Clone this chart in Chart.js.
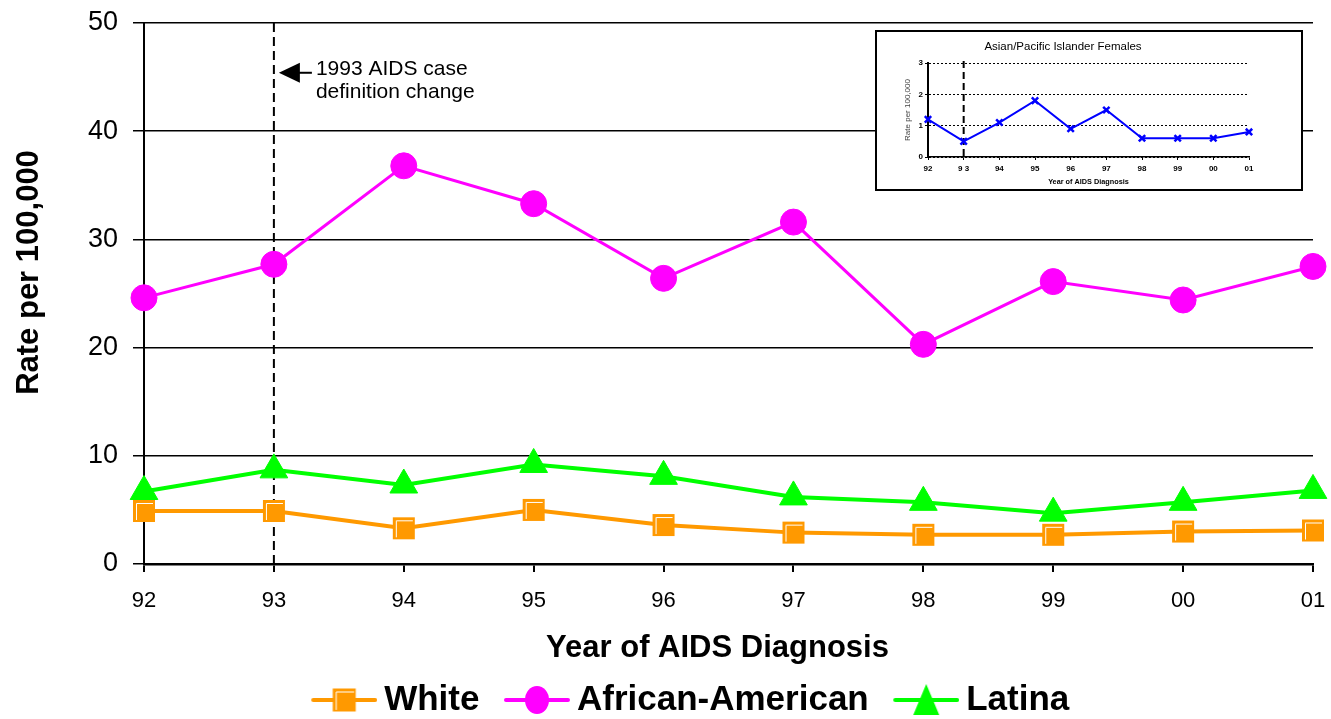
<!DOCTYPE html>
<html><head><meta charset="utf-8">
<script src="https://cdn.jsdelivr.net/npm/chart.js@4.4.1/dist/chart.umd.min.js"></script>
<style>
html,body{margin:0;padding:0;background:#fff;}
#wrap{position:relative;width:1331px;height:719px;overflow:hidden;}
#main{position:absolute;left:0;top:0;}
#insetBox{position:absolute;left:875px;top:30px;width:428px;height:161px;box-sizing:border-box;border:2px solid #000;background:#fff;}
#inset{display:block;}
</style></head><body>
<div id="wrap">
<canvas id="main" width="1331" height="719"></canvas>
<div id="insetBox"><canvas id="inset" width="424" height="157"></canvas></div>
</div>
<script>
// ---- data ----
const years = ['92','93','94','95','96','97','98','99','00','01'];
const insetYears = ['92','9 3','94','95','96','97','98','99','00','01'];
const white = [4.9, 4.9, 3.3, 5.0, 3.6, 2.9, 2.7, 2.7, 3.0, 3.1];
const africanAmerican = [24.6, 27.7, 36.8, 33.3, 26.4, 31.6, 20.3, 26.1, 24.4, 27.5];
const latina = [6.7, 8.7, 7.3, 9.2, 8.1, 6.2, 5.7, 4.7, 5.7, 6.8];
const asianPacific = [1.2, 0.5, 1.1, 1.8, 0.9, 1.5, 0.6, 0.6, 0.6, 0.8];
const mainYTicks = [0, 10, 20, 30, 40, 50];
const insetYTicks = [0, 1, 2, 3];
const seriesNames = ['White', 'African-American', 'Latina'];
const yTitleText = 'Rate per 100,000';
const xTitleText = 'Year of AIDS Diagnosis';
const definitionChangeIndex = 1;      // 1993
const annotationValue = 45.4;         // rate level of the arrow
const annotationLines = ['1993 AIDS case', 'definition change'];

const FONT = "'Liberation Sans', Arial, sans-serif";
Chart.defaults.font.family = FONT;
Chart.defaults.color = '#000';

const ORANGE = '#FF9900', MAGENTA = '#FF00FF', GREEN = '#00FF00', BLUE = '#0000FF';

// ---- marker images ----
function drawSquare(ctx, cx, cy, s) {
  ctx.fillStyle = ORANGE;
  ctx.fillRect(cx - s/2, cy - s/2, s, s);
  ctx.strokeStyle = '#fff';
  ctx.lineWidth = 1;
  ctx.beginPath();
  ctx.moveTo(cx - s/2 + 3.5, cy + s/2 - 2);
  ctx.lineTo(cx - s/2 + 3.5, cy - s/2 + 3.5);
  ctx.lineTo(cx + s/2 - 2, cy - s/2 + 3.5);
  ctx.stroke();
}
function squareImage() {
  const c = document.createElement('canvas'); c.width = 24; c.height = 24;
  drawSquare(c.getContext('2d'), 12, 12, 22);
  return c;
}
function legendImage(kind, color) {
  const c = document.createElement('canvas');
  c.width = 94; c.height = 36;
  const ctx = c.getContext('2d');
  const x0 = 28, x1 = 94, cy = 18, cx = (x0 + x1) / 2;
  ctx.strokeStyle = color; ctx.lineWidth = 4; ctx.lineCap = 'round';
  ctx.beginPath(); ctx.moveTo(x0 + 2, cy); ctx.lineTo(x1 - 2, cy); ctx.stroke();
  if (kind === 'square') drawSquare(ctx, cx, cy, 23);
  if (kind === 'circle') { ctx.fillStyle = color; ctx.beginPath(); ctx.ellipse(cx, cy, 12, 14, 0, 0, Math.PI*2); ctx.fill(); }
  if (kind === 'triangle') { ctx.fillStyle = color; ctx.beginPath(); ctx.moveTo(cx, cy - 16); ctx.lineTo(cx + 13, cy + 15); ctx.lineTo(cx - 13, cy + 15); ctx.closePath(); ctx.fill(); }
  return c;
}
const legendImgs = [legendImage('square', ORANGE), legendImage('circle', MAGENTA), legendImage('triangle', GREEN)];

// ---- main chart plugins ----
const mainDecor = {
  id: 'mainDecor',
  beforeDatasetsDraw(chart) {
    const {ctx, chartArea: a, scales: {x}} = chart;
    const px = x.getPixelForValue(definitionChangeIndex);
    ctx.save();
    ctx.strokeStyle = '#000'; ctx.lineWidth = 2; ctx.setLineDash([9, 5]);
    ctx.beginPath(); ctx.moveTo(px, a.top); ctx.lineTo(px, a.bottom); ctx.stroke();
    ctx.restore();
  },
  afterDraw(chart) {
    const {ctx, chartArea: a, scales: {x, y}} = chart;
    const tipX = x.getPixelForValue(definitionChangeIndex) + 5;
    const tipY = y.getPixelForValue(annotationValue);
    ctx.save();
    ctx.fillStyle = '#000'; ctx.strokeStyle = '#000';
    ctx.beginPath(); ctx.moveTo(tipX, tipY); ctx.lineTo(tipX + 21, tipY - 10); ctx.lineTo(tipX + 21, tipY + 10); ctx.closePath(); ctx.fill();
    ctx.lineWidth = 2; ctx.beginPath(); ctx.moveTo(tipX + 20, tipY); ctx.lineTo(tipX + 33, tipY); ctx.stroke();
    ctx.font = '21px ' + FONT; ctx.textAlign = 'left'; ctx.textBaseline = 'alphabetic';
    ctx.fillText(annotationLines[0], tipX + 37, tipY + 2);
    ctx.fillText(annotationLines[1], tipX + 37, tipY + 25);
    // x-axis title (slightly left of the plot centre, as in the original)
    ctx.font = 'bold 31px ' + FONT; ctx.textAlign = 'center'; ctx.textBaseline = 'middle';
    ctx.fillText(xTitleText, (a.left + a.right) / 2 - 11, a.bottom + 84);
    // y-axis title (slightly above the plot centre, as in the original)
    ctx.translate(29, (a.top + a.bottom) / 2 - 21);
    ctx.rotate(-Math.PI / 2);
    ctx.fillText(yTitleText, 0, 0);
    ctx.restore();
  }
};
const legendShift = {
  id: 'legendShift',
  afterLayout(chart) {
    const l = chart.legend; if (!l) return;
    l.top += 8.5; l.bottom += 8.5; l.left += 25; l.right += 25;
  }
};

new Chart(document.getElementById('main'), {
  type: 'line',
  data: {
    labels: years,
    datasets: [
      {label: seriesNames[0], data: white, borderColor: ORANGE, backgroundColor: ORANGE, borderWidth: 4,
       pointStyle: squareImage(), pointRadius: 12, clip: false},
      {label: seriesNames[1], data: africanAmerican, borderColor: MAGENTA, backgroundColor: MAGENTA, borderWidth: 3,
       pointStyle: 'circle', pointRadius: 13, pointBorderWidth: 1, clip: false},
      {label: seriesNames[2], data: latina, borderColor: GREEN, backgroundColor: GREEN, borderWidth: 4,
       pointStyle: 'triangle', pointRadius: 16, pointBorderWidth: 1, clip: false}
    ]
  },
  options: {
    responsive: false, animation: false,
    layout: {padding: {top: 23, right: 18, left: 0, bottom: 0}},
    plugins: {
      tooltip: {enabled: false},
      legend: {
        position: 'bottom',
        labels: {
          usePointStyle: true, pointStyleWidth: 73, padding: 7, color: '#000',
          font: {size: 35, weight: 'bold'},
          generateLabels: chart => chart.data.datasets.map((ds, i) => ({
            text: ds.label, pointStyle: legendImgs[i], fillStyle: ds.backgroundColor,
            strokeStyle: ds.borderColor, lineWidth: 0, hidden: false, datasetIndex: i, fontColor: '#000'
          }))
        }
      }
    },
    scales: {
      x: {
        offset: false,
        grid: {drawOnChartArea: false, drawTicks: true, tickLength: 8, color: '#000', lineWidth: 2},
        border: {color: '#000', width: 2.5},
        ticks: {font: {size: 22}, color: '#000', padding: 16, autoSkip: false, maxRotation: 0},
        title: {display: false},
        afterFit: s => { s.height = 103; s.paddingLeft = 0; s.paddingRight = 0; }
      },
      y: {
        min: mainYTicks[0], max: mainYTicks[mainYTicks.length - 1],
        afterBuildTicks: s => { s.ticks = mainYTicks.map(v => ({value: v})); },
        grid: {color: '#000', lineWidth: 1.5, tickLength: 11},
        border: {color: '#000', width: 2},
        ticks: {font: {size: 27}, color: '#000', padding: 15},
        title: {display: false},
        afterFit: s => { s.width = 144; s.paddingTop = 0; s.paddingBottom = 0; }
      }
    }
  },
  plugins: [mainDecor, legendShift]
});

// ---- inset ----
const insetDecor = {
  id: 'insetDecor',
  beforeDatasetsDraw(chart) {
    const {ctx, chartArea: a, scales: {x}} = chart;
    const px = x.getPixelForValue(definitionChangeIndex);
    ctx.save();
    ctx.strokeStyle = '#000'; ctx.lineWidth = 2; ctx.setLineDash([7, 4]);
    ctx.beginPath(); ctx.moveTo(px, a.top - 2); ctx.lineTo(px, a.bottom + 3); ctx.stroke();
    ctx.restore();
  }
};
new Chart(document.getElementById('inset'), {
  type: 'line',
  data: {
    labels: insetYears,
    datasets: [{label: 'Asian/Pacific Islander Females', data: asianPacific, borderColor: BLUE, backgroundColor: BLUE,
      borderWidth: 2, pointStyle: 'crossRot', pointRadius: 4.5, pointBorderWidth: 2.5, clip: false}]
  },
  options: {
    responsive: false, animation: false,
    layout: {padding: {top: 0, right: 52, left: 0, bottom: 0}},
    plugins: {
      legend: {display: false}, tooltip: {enabled: false},
      title: {display: true, text: 'Asian/Pacific Islander Females', color: '#000',
        font: {size: 11.5, weight: 'normal'}, padding: {top: 8, bottom: 9.2}}
    },
    scales: {
      x: {
        offset: false,
        grid: {drawOnChartArea: false, tickLength: 3, color: '#000', lineWidth: 1},
        border: {color: '#000', width: 1.5},
        ticks: {font: {size: 8, weight: 'bold'}, color: '#000', padding: 3.5, autoSkip: false, maxRotation: 0},
        title: {display: true, text: 'Year of AIDS Diagnosis', font: {size: 7.3, weight: 'bold'}, color: '#000', padding: {top: 0, bottom: 3}},
        afterFit: s => { s.height = 32; }
      },
      y: {
        min: insetYTicks[0], max: insetYTicks[insetYTicks.length - 1],
        afterBuildTicks: s => { s.ticks = insetYTicks.map(v => ({value: v})); },
        grid: {color: '#000', lineWidth: 1, tickLength: 3},
        border: {color: '#000', width: 2, dash: [2, 2]},
        ticks: {font: {size: 8, weight: 'bold'}, color: '#000', padding: 2},
        title: {display: true, text: 'Rate per 100,000', font: {size: 8}, color: '#444', padding: {top: 26, bottom: 0}},
        afterFit: s => { s.width = 51; }
      }
    }
  },
  plugins: [insetDecor]
});
</script>
</body></html>
